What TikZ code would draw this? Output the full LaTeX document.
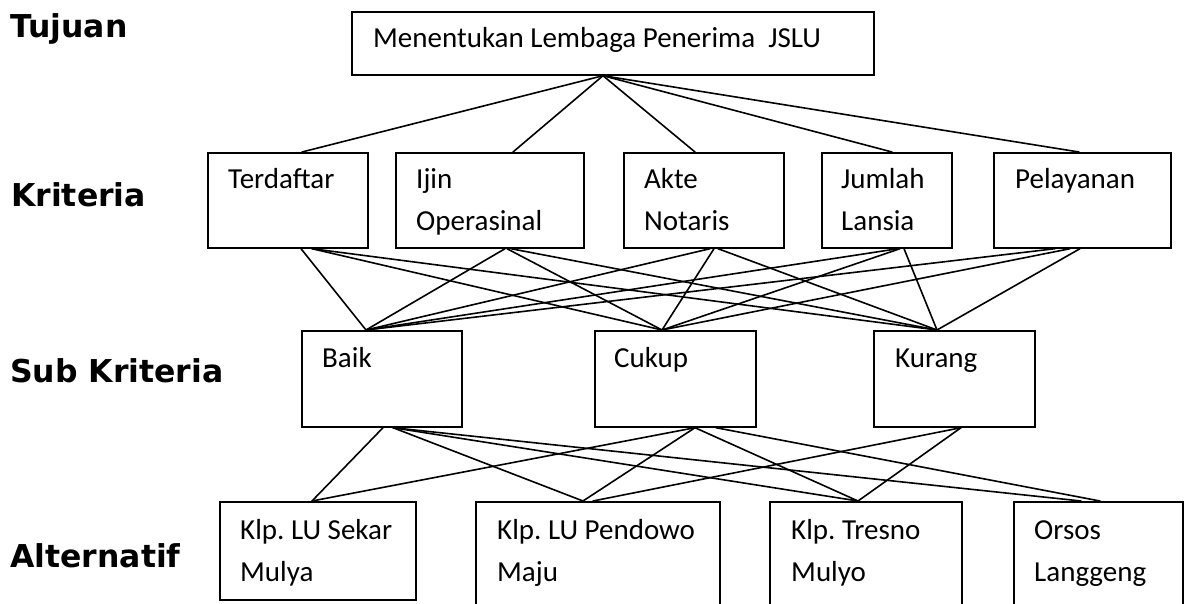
\documentclass[tikz,border=0pt]{standalone}
\usepackage{fontspec}
\setmainfont{Carlito}
\newfontfamily\levelfont{DejaVu Sans}
\frenchspacing
\begin{document}
\begin{tikzpicture}[x=1pt,y=-1pt,
  box/.style={draw=black, line width=1.7pt, rectangle, inner sep=0pt, anchor=north west},
  boxtext/.style={anchor=base west, inner sep=0pt, font=\fontsize{29}{42}\selectfont},
  level/.style={anchor=base west, inner sep=0pt, font=\levelfont\bfseries\fontsize{31.5}{36}\selectfont},
  link/.style={line width=1.6pt, line cap=round}]
\useasboundingbox (0,0) rectangle (1187,604);
\clip (0,0) rectangle (1187,604);

% level labels
\node[level] (lv1) at (10,38)  {Tujuan};
\node[level] (lv2) at (11,207) {Kriteria};
\node[level] (lv3) at (10,382) {Sub Kriteria};
\node[level] (lv4) at (10,567) {Alternatif};

% goal
\node[box, minimum width=522pt, minimum height=63pt] (t) at (351,11) {};
\node[boxtext] (tt) at ([shift={(22pt,-37pt)}]t.north west) {Menentukan Lembaga Penerima \ JSLU};

% criteria
\node[box, minimum width=160pt, minimum height=95pt] (k1) at (207,152) {};
\node[box, minimum width=188pt, minimum height=95pt] (k2) at (395,152) {};
\node[box, minimum width=160pt, minimum height=95pt] (k3) at (623,152) {};
\node[box, minimum width=130pt, minimum height=95pt] (k4) at (821,152) {};
\node[box, minimum width=177pt, minimum height=95pt] (k5) at (993,152) {};
\node[boxtext] (k1t) at ([shift={(21pt,-37pt)}]k1.north west) {\parbox[t]{200pt}{\raggedright Terdaftar}};
\node[boxtext] (k2t) at ([shift={(21pt,-37pt)}]k2.north west) {\parbox[t]{200pt}{\raggedright Ijin\\Operasinal}};
\node[boxtext] (k3t) at ([shift={(21pt,-37pt)}]k3.north west) {\parbox[t]{200pt}{\raggedright Akte\\Notaris}};
\node[boxtext] (k4t) at ([shift={(20pt,-37pt)}]k4.north west) {\parbox[t]{200pt}{\raggedright Jumlah\\Lansia}};
\node[boxtext] (k5t) at ([shift={(22pt,-37pt)}]k5.north west) {\parbox[t]{200pt}{\raggedright Pelayanan}};

% sub criteria
\node[box, minimum width=160pt, minimum height=96pt] (s1) at (301,330) {};
\node[box, minimum width=161pt, minimum height=96pt] (s2) at (594,330) {};
\node[box, minimum width=161pt, minimum height=96pt] (s3) at (873,330) {};
\node[boxtext] (s1t) at ([shift={(21pt,-37pt)}]s1.north west) {Baik};
\node[boxtext] (s2t) at ([shift={(20pt,-37pt)}]s2.north west) {Cukup};
\node[boxtext] (s3t) at ([shift={(22pt,-37pt)}]s3.north west) {Kurang};

% alternatives
\node[box, minimum width=196pt, minimum height=98pt]  (a1) at (219,501) {};
\node[box, minimum width=244pt, minimum height=120pt] (a2) at (475,501) {};
\node[box, minimum width=192pt, minimum height=120pt] (a3) at (769,501) {};
\node[box, minimum width=169pt, minimum height=120pt] (a4) at (1013,501) {};
\node[boxtext] (a1t) at ([shift={(21pt,-38pt)}]a1.north west) {\parbox[t]{240pt}{\raggedright Klp. LU Sekar\\Mulya}};
\node[boxtext] (a2t) at ([shift={(22pt,-38pt)}]a2.north west) {\parbox[t]{240pt}{\raggedright Klp. LU Pendowo\\Maju}};
\node[boxtext] (a3t) at ([shift={(22pt,-38pt)}]a3.north west) {\parbox[t]{240pt}{\raggedright Klp. Tresno\\Mulyo}};
\node[boxtext] (a4t) at ([shift={(21pt,-38pt)}]a4.north west) {\parbox[t]{240pt}{\raggedright Orsos\\Langgeng}};

% goal -> criteria
\draw[link] ([xshift=252pt]t.south west) -- ([xshift=95pt]k1.north west);
\draw[link] ([xshift=252pt]t.south west) -- ([xshift=118pt]k2.north west);
\draw[link] ([xshift=252pt]t.south west) -- ([xshift=72pt]k3.north west);
\draw[link] ([xshift=252pt]t.south west) -- ([xshift=71pt]k4.north west);
\draw[link] ([xshift=252pt]t.south west) -- ([xshift=86pt]k5.north west);

% criteria -> sub criteria
\draw[link] ([xshift=94pt]k1.south west)  -- ([xshift=65pt]s1.north west);
\draw[link] ([xshift=105pt]k1.south west) -- ([xshift=68pt]s2.north west);
\draw[link] ([xshift=105pt]k1.south west) -- ([xshift=64pt]s3.north west);
\draw[link] ([xshift=110pt]k2.south west) -- ([xshift=65pt]s1.north west);
\draw[link] ([xshift=112pt]k2.south west) -- ([xshift=68pt]s2.north west);
\draw[link] ([xshift=116pt]k2.south west) -- ([xshift=64pt]s3.north west);
\draw[link] ([xshift=87pt]k3.south west)  -- ([xshift=65pt]s1.north west);
\draw[link] ([xshift=91pt]k3.south west)  -- ([xshift=68pt]s2.north west);
\draw[link] ([xshift=95pt]k3.south west)  -- ([xshift=64pt]s3.north west);
\draw[link] ([xshift=77pt]k4.south west)  -- ([xshift=65pt]s1.north west);
\draw[link] ([xshift=79pt]k4.south west)  -- ([xshift=68pt]s2.north west);
\draw[link] ([xshift=83pt]k4.south west)  -- ([xshift=64pt]s3.north west);
\draw[link] ([xshift=62pt]k5.south west)  -- ([xshift=65pt]s1.north west);
\draw[link] ([xshift=77pt]k5.south west)  -- ([xshift=68pt]s2.north west);
\draw[link] ([xshift=87pt]k5.south west)  -- ([xshift=64pt]s3.north west);

% sub criteria -> alternatives
\draw[link] ([xshift=82pt]s1.south west)  -- ([xshift=93pt]a1.north west);
\draw[link] ([xshift=92pt]s1.south west)  -- ([xshift=108pt]a2.north west);
\draw[link] ([xshift=92pt]s1.south west)  -- ([xshift=89pt]a3.north west);
\draw[link] ([xshift=92pt]s1.south west)  -- ([xshift=68pt]a4.north west);
\draw[link] ([xshift=101pt]s2.south west) -- ([xshift=93pt]a1.north west);
\draw[link] ([xshift=101pt]s2.south west) -- ([xshift=108pt]a2.north west);
\draw[link] ([xshift=101pt]s2.south west) -- ([xshift=89pt]a3.north west);
\draw[link] ([xshift=122pt]s2.south west) -- ([xshift=87pt]a4.north west);
\draw[link] ([xshift=88pt]s3.south west)  -- ([xshift=118pt]a2.north west);
\draw[link] ([xshift=88pt]s3.south west)  -- ([xshift=89pt]a3.north west);
\end{tikzpicture}
\end{document}
